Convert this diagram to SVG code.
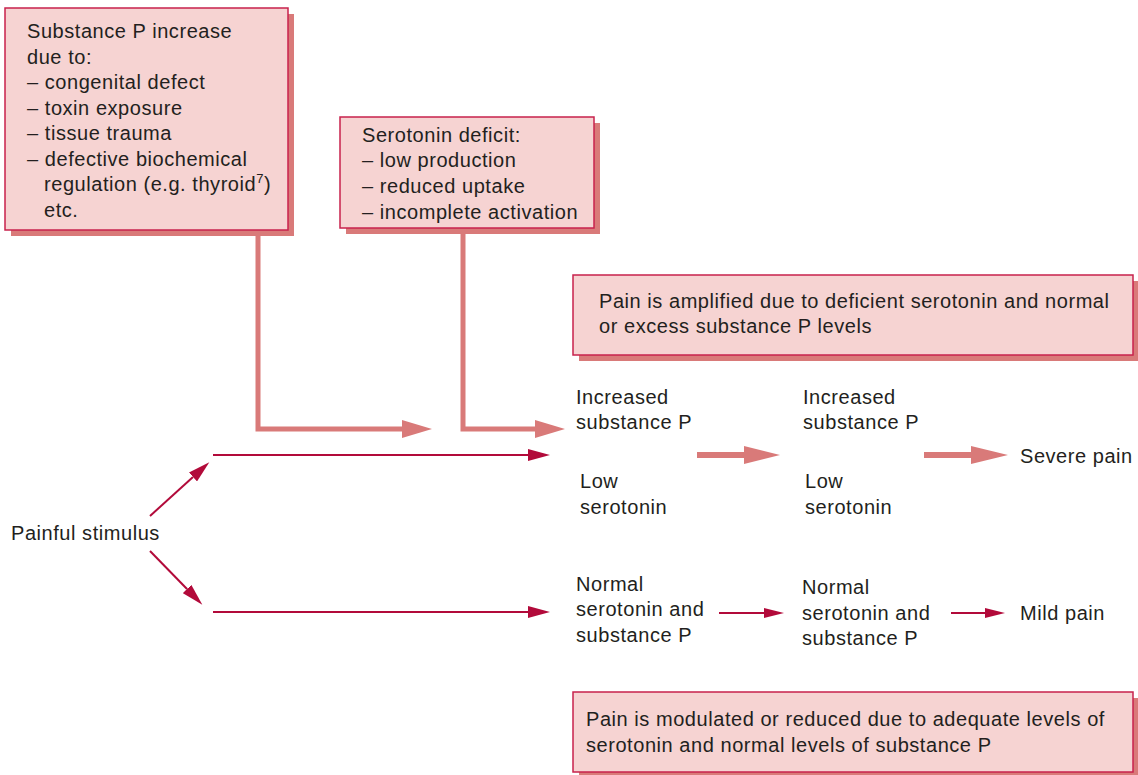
<svg xmlns="http://www.w3.org/2000/svg" width="1138" height="775" viewBox="0 0 1138 775">
  <style>
    text { font-family: "Liberation Sans", Arial, Helvetica, sans-serif; font-size: 20px; letter-spacing: 0.55px; fill: #231f20; }
    .box { fill: #f6d3d2; stroke: #c8224c; stroke-width: 1.5; }
    .shadow { fill: #d97a79; }
    .thick { fill: none; stroke: #d97a79; stroke-width: 5; }
    .thin { fill: none; stroke: #b20a3a; stroke-width: 2; }
  </style>
  <defs>
    <marker id="headThick" markerUnits="userSpaceOnUse" viewBox="0 0 30 18" refX="0" refY="9" markerWidth="30" markerHeight="18" orient="auto">
      <path d="M0,0 L30,9 L0,18 Z" fill="#d97a79"/>
    </marker>
    <marker id="headThin" markerUnits="userSpaceOnUse" viewBox="0 0 22 12" refX="0" refY="6" markerWidth="22" markerHeight="12" orient="auto">
      <path d="M0,0 L22,6 L0,12 Z" fill="#b20a3a"/>
    </marker>
  </defs>

  <rect width="1138" height="775" fill="#ffffff"/>

  <!-- connectors -->
  <g id="connectors">
    <!-- cause feeds -->
    <path class="thick" d="M258,232 V429 H402" marker-end="url(#headThick)"/>
    <path class="thick" d="M463,232 V429 H535" marker-end="url(#headThick)"/>
    <!-- stimulus branches -->
    <path class="thin" d="M150,516 L193,477" marker-end="url(#headThin)"/>
    <path class="thin" d="M150,551 L187,589" marker-end="url(#headThin)"/>
    <path class="thin" d="M213,455 H528" marker-end="url(#headThin)"/>
    <path class="thin" d="M213,612 H528" marker-end="url(#headThin)"/>
    <!-- amplified pathway -->
    <path d="M697,455 H745" stroke="#d97a79" stroke-width="6" fill="none"/>
    <path d="M744,446 L780,455 L744,464 Z" fill="#d97a79"/>
    <path d="M924,455 H972" stroke="#d97a79" stroke-width="6" fill="none"/>
    <path d="M971,446 L1008,455 L971,464 Z" fill="#d97a79"/>
    <!-- modulated pathway -->
    <path class="thin" d="M719,613 H765"/>
    <path d="M764,608 L784,613 L764,618 Z" fill="#b20a3a"/>
    <path class="thin" d="M951,613 H986"/>
    <path d="M985,608 L1005,613 L985,618 Z" fill="#b20a3a"/>
  </g>

  <!-- substance P causes -->
  <g id="substance-p-box">
    <rect class="shadow" x="11" y="14" width="283" height="222"/>
    <rect class="box" x="5" y="8" width="283" height="222"/>
    <text x="27" y="38">Substance P increase</text>
    <text x="27" y="64">due to:</text>
    <text x="27" y="89">– congenital defect</text>
    <text x="27" y="115">– toxin exposure</text>
    <text x="27" y="140">– tissue trauma</text>
    <text x="27" y="166">– defective biochemical</text>
    <text x="44" y="191">regulation (e.g. thyroid<tspan font-size="13" dy="-8">7</tspan><tspan dy="8">)</tspan></text>
    <text x="44" y="217">etc.</text>
  </g>

  <!-- serotonin causes -->
  <g id="serotonin-box">
    <rect class="shadow" x="346" y="123" width="254" height="111"/>
    <rect class="box" x="340" y="117" width="254" height="111"/>
    <text x="362" y="142">Serotonin deficit:</text>
    <text x="362" y="167">– low production</text>
    <text x="362" y="193">– reduced uptake</text>
    <text x="362" y="219">– incomplete activation</text>
  </g>

  <!-- amplified note -->
  <g id="amplified-note">
    <rect class="shadow" x="579" y="281" width="560" height="80"/>
    <rect class="box" x="573" y="275" width="560" height="80"/>
    <text x="599" y="308">Pain is amplified due to deficient serotonin and normal</text>
    <text x="599" y="333">or excess substance P levels</text>
  </g>

  <!-- modulated note -->
  <g id="modulated-note">
    <rect class="shadow" x="579" y="698" width="560" height="80"/>
    <rect class="box" x="573" y="692" width="560" height="80"/>
    <text x="586" y="726">Pain is modulated or reduced due to adequate levels of</text>
    <text x="586" y="752">serotonin and normal levels of substance P</text>
  </g>

  <g id="stimulus">
    <text x="11" y="540">Painful stimulus</text>
  </g>

  <g id="state-increased-1">
    <text x="576" y="404">Increased</text>
    <text x="576" y="429">substance P</text>
    <text x="580" y="488">Low</text>
    <text x="580" y="514">serotonin</text>
  </g>

  <g id="state-increased-2">
    <text x="803" y="404">Increased</text>
    <text x="803" y="429">substance P</text>
    <text x="805" y="488">Low</text>
    <text x="805" y="514">serotonin</text>
  </g>

  <g id="severe-pain">
    <text x="1020" y="463">Severe pain</text>
  </g>

  <g id="state-normal-1">
    <text x="576" y="591">Normal</text>
    <text x="576" y="616">serotonin and</text>
    <text x="576" y="642">substance P</text>
  </g>

  <g id="state-normal-2">
    <text x="802" y="594">Normal</text>
    <text x="802" y="620">serotonin and</text>
    <text x="802" y="645">substance P</text>
  </g>

  <g id="mild-pain">
    <text x="1020" y="620">Mild pain</text>
  </g>
</svg>
